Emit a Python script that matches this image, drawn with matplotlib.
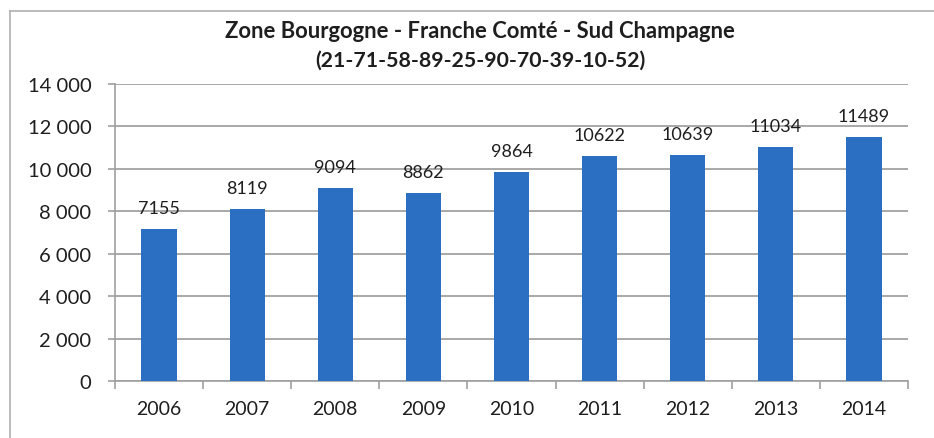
import matplotlib
matplotlib.use("Agg")
import matplotlib.pyplot as plt
from matplotlib.ticker import FuncFormatter, FixedLocator
from matplotlib.lines import Line2D

years = ["2006", "2007", "2008", "2009", "2010", "2011", "2012", "2013", "2014"]
values = [7155, 8119, 9094, 8862, 9864, 10622, 10639, 11034, 11489]
title_lines = ["Zone Bourgogne - Franche Comté - Sud Champagne",
               "(21-71-58-89-25-90-70-39-10-52)"]

plt.rcParams['font.family'] = ['Lato', 'DejaVu Sans']

W, H = 934, 439
fig = plt.figure(figsize=(W / 100, H / 100), dpi=100)
fig.patch.set_facecolor("white")

# axes in pixel coordinates: left 115, right 908, top 85, bottom 382
ax = fig.add_axes([115 / W, 1 - 382 / H, (908 - 115) / W, (382 - 85) / H])

x = list(range(len(years)))
ax.bar(x, values, width=0.4, color="#2b6fc3", zorder=3)
for xi, v in zip(x, values):
    ax.text(xi, v + 620, str(v), ha="center", va="bottom", fontsize=13, color="#1e1e1e")

ax.set_xlim(-0.5, len(years) - 0.5)
ax.set_ylim(0, 14000)
ax.set_yticks(range(0, 14001, 2000))
ax.yaxis.set_major_formatter(FuncFormatter(lambda v, p: f"{int(v):,}".replace(",", " ")))
ax.grid(axis="y", color="#a8a8a8", linewidth=1.4, zorder=0)
ax.set_xticks(x)
ax.set_xticklabels(years)
ax.xaxis.set_minor_locator(FixedLocator([i - 0.5 for i in range(len(years) + 1)]))
ax.tick_params(axis="x", which="major", length=0, pad=14, labelsize=14, labelcolor="#1e1e1e")
ax.tick_params(axis="x", which="minor", length=6, width=1.2, color="#a0a0a0")
ax.tick_params(axis="y", length=5, width=1.2, color="#a0a0a0", labelsize=14.5, labelcolor="#1e1e1e", pad=12)

for s in ["top", "right"]:
    ax.spines[s].set_visible(False)
for s in ["left", "bottom"]:
    ax.spines[s].set_color("#a0a0a0")
    ax.spines[s].set_linewidth(1.2)

fig.text(480 / W, 1 - 32 / H, title_lines[0], ha="center", va="center",
         fontsize=15.8, fontweight="bold", color="#1e1e1e")
fig.text(480 / W, 1 - 61 / H, title_lines[1], ha="center", va="center",
         fontsize=15.3, fontweight="bold", color="#1e1e1e")

# outer chart frame (top and left edges visible)
fig.add_artist(Line2D([10 / W, 1.0], [1 - 12 / H, 1 - 12 / H], transform=fig.transFigure,
                      color="#b0b0b0", linewidth=1.2))
fig.add_artist(Line2D([10 / W, 10 / W], [1 - 12 / H, 0.0], transform=fig.transFigure,
                      color="#b0b0b0", linewidth=1.2))

fig.savefig("out.png", dpi=100, facecolor="white")
